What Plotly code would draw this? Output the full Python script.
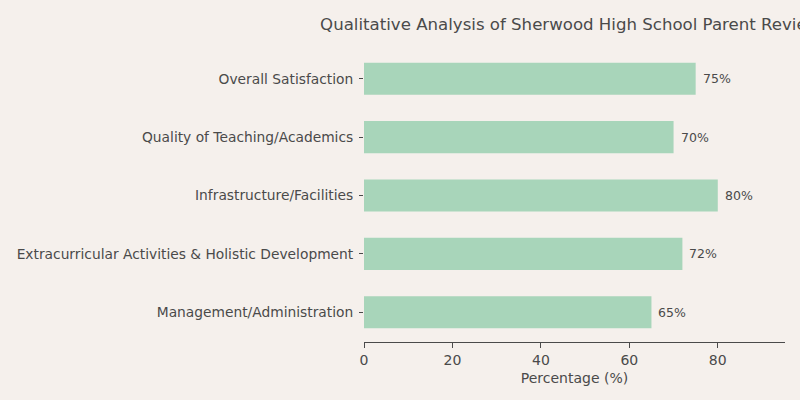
import plotly.graph_objects as go

categories = [
    "Overall Satisfaction",
    "Quality of Teaching/Academics",
    "Infrastructure/Facilities",
    "Extracurricular Activities & Holistic Development",
    "Management/Administration",
]
percentages = [75, 70, 80, 72, 65]
x_ticks = [0, 20, 40, 60, 80]

BG = "#f5f0ec"
BAR = "#a8d5ba"
TEXT = "#4a4a4a"

fig = go.Figure(
    go.Bar(
        x=percentages,
        y=categories,
        orientation="h",
        marker=dict(color=BAR, line=dict(width=0)),
        width=0.55,
        hoverinfo="x+y",
    )
)

for cat, val in zip(categories, percentages):
    fig.add_annotation(
        x=val,
        y=cat,
        text=f"{val}%",
        showarrow=False,
        xanchor="left",
        xshift=5,
        font=dict(size=12.5, color=TEXT),
    )

fig.update_xaxes(
    range=[0, 95.2],
    tickvals=x_ticks,
    showgrid=False,
    zeroline=False,
    showline=True,
    linecolor=TEXT,
    linewidth=1,
    ticks="outside",
    ticklen=5,
    tickcolor=TEXT,
    tickfont=dict(size=14, color=TEXT),
    title=dict(text="Percentage (%)", font=dict(size=14, color=TEXT), standoff=6),
)

fig.update_yaxes(
    categoryorder="array",
    categoryarray=categories[::-1],
    range=[-0.51, 4.51],
    showgrid=False,
    zeroline=False,
    showline=False,
    ticks="outside",
    ticklen=4,
    tickcolor=TEXT,
    ticklabelstandoff=3,
    tickfont=dict(size=13.8, color=TEXT),
)

fig.update_layout(
    width=800,
    height=400,
    paper_bgcolor=BG,
    plot_bgcolor=BG,
    font=dict(family="DejaVu Sans", color=TEXT),
    title=dict(
        text="Qualitative Analysis of Sherwood High School Parent Reviews",
        x=0.5,
        xref="paper",
        xanchor="center",
        y=0.94,
        yanchor="middle",
        font=dict(size=16.6, color=TEXT),
    ),
    margin=dict(l=364, r=15, t=49, b=58),
    showlegend=False,
)

fig.write_html(
    "out.html",
    config={"displayModeBar": False},
    post_script="document.body.style.margin='0';document.body.style.background='%s';" % BG,
)
